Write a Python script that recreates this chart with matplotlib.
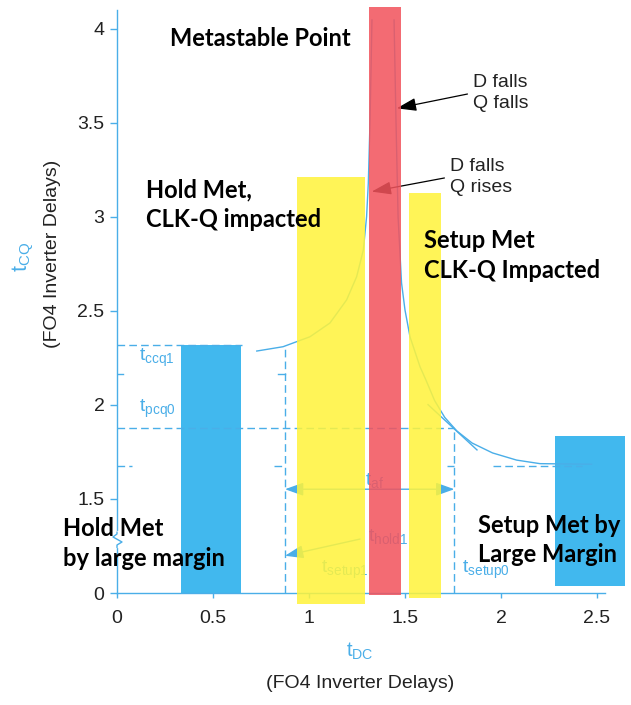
import numpy as np
import matplotlib
matplotlib.use('Agg')
import matplotlib.pyplot as plt

plt.rcParams['font.family'] = ['Liberation Sans', 'DejaVu Sans']
plt.rcParams['font.size'] = 14

BLUE = '#41b8ee'
LINE = '#4aaee8'
YELLOW = '#fff33b'
RED = '#f2535c'
INK = '#222222'

# operating regions: t_DC span and t_CQ span (FO4 delays)
region_x0 = [0.333, 0.936, 1.3125, 1.521, 2.28]
region_x1 = [0.646, 1.292, 1.477, 1.6875, 2.645]
region_y0 = [0.0, -0.18, -0.03, -0.08, 0.11]
region_y1 = [2.32, 3.214, 4.118, 3.129, 1.835]
region_col = [BLUE, YELLOW, RED, YELLOW, BLUE]

# hold side curve (D falls, Q rises)
hold_dc = [0.728, 0.865, 1.005, 1.109, 1.196, 1.248, 1.283, 1.300, 1.309, 1.318, 1.328]
hold_cq = [2.287, 2.310, 2.363, 2.436, 2.559, 2.682, 2.824, 3.002, 3.181, 3.516, 4.048]

# setup side curve (D falls, Q falls)
setup_dc = [1.443, 1.453, 1.464, 1.482, 1.500, 1.526, 1.578, 1.609, 1.654, 1.707,
            1.770, 1.849, 1.956, 2.081, 2.203, 2.472]
setup_cq = [4.048, 3.516, 3.000, 2.649, 2.505, 2.363, 2.204, 2.133, 2.024, 1.934,
            1.862, 1.798, 1.745, 1.707, 1.688, 1.685]

knee_dc = [1.62, 1.875]
knee_cq = [2.002, 1.761]

# reference levels
t_ccq1 = 2.32
t_pcq0 = 1.876
t_floor = 1.676
t_mid = 2.165
t_af_level = 1.552
t_hold_dc = 0.875
t_setup_dc = 1.757
t_hold1_from = (1.266, 0.861)
t_hold1_to = (0.875, 0.594)
floor_spans = [(0.0, 0.08), (0.82, 0.875), (1.72, 1.757), (1.96, 2.42)]
mid_spans = [(0.0, 0.03), (0.84, 0.875)]

xticks = [0, 0.5, 1, 1.5, 2, 2.5]
xtick_labels = ['0', '0.5', '1', '1.5', '2', '2.5']
yticks = [0, 1.5, 2, 2.5, 3, 3.5, 4]
ytick_labels = ['0', '1.5', '2', '2.5', '3', '3.5', '4']

BREAK = 1.5


def fwd(y):
    y = np.asarray(y, float)
    return np.where(y >= BREAK, y, 1.0 + y / 3.0)


def inv(v):
    v = np.asarray(v, float)
    return np.where(v >= BREAK, v, (v - 1.0) * 3.0)


fig = plt.figure(figsize=(6.31, 7.05), dpi=100)
ax = fig.add_axes([117 / 631, 112 / 705, 488 / 631, 583 / 705])
ax.set_yscale('function', functions=(fwd, inv))
ax.set_xlim(0, 2.5417)
ax.set_ylim(0, 4.101)

dash = (0, (5.5, 3))

# curves
ax.plot(hold_dc, hold_cq, color=LINE, lw=1.0, zorder=2, clip_on=False)
ax.plot(setup_dc, setup_cq, color=LINE, lw=1.0, zorder=2, clip_on=False)
ax.plot(knee_dc, knee_cq, color=LINE, lw=1.0, zorder=2)

# dashed guides
ax.plot([0, 0.65], [t_ccq1, t_ccq1], color=LINE, lw=1.0, ls=dash, zorder=2)
ax.plot([0, t_setup_dc], [t_pcq0, t_pcq0], color=LINE, lw=1.0, ls=dash, zorder=2)
ax.plot([t_hold_dc, t_hold_dc], [0, t_ccq1], color=LINE, lw=1.0, ls=dash, zorder=2)
ax.plot([t_setup_dc, t_setup_dc], [0, t_pcq0], color=LINE, lw=1.0, ls=dash, zorder=2)
for a, b in floor_spans:
    ax.plot([a, b], [t_floor, t_floor], color=LINE, lw=1.0, ls=dash, zorder=2)
for a, b in mid_spans:
    ax.plot([a, b], [t_mid, t_mid], color=LINE, lw=1.0, zorder=2)

# t_af and t_hold1 arrows
ax.annotate('', xy=(t_hold_dc, t_af_level), xytext=(t_setup_dc, t_af_level),
            arrowprops=dict(arrowstyle='<|-|>,head_length=0.7,head_width=0.25',
                            color=LINE, lw=1.0, shrinkA=0, shrinkB=0,
                            mutation_scale=16), zorder=2)
ax.annotate('', xy=t_hold1_to, xytext=t_hold1_from,
            arrowprops=dict(arrowstyle='-|>,head_length=0.7,head_width=0.25',
                            color=LINE, lw=1.0, shrinkA=0, shrinkB=0,
                            mutation_scale=16), zorder=2)

# black callouts
callout_arrow = dict(arrowstyle='-|>,head_length=0.6,head_width=0.2',
                     color='black', lw=0.9, shrinkA=2, shrinkB=0,
                     mutation_scale=20, relpos=(0, 0.5))
ax.annotate('D falls\nQ falls', xy=(1.457, 3.578), xytext=(1.854, 3.66),
            ha='left', va='center', fontsize=14, color=INK, linespacing=1.3,
            arrowprops=callout_arrow, zorder=2)
ax.annotate('D falls\nQ rises', xy=(1.3265, 3.135), xytext=(1.734, 3.213),
            ha='left', va='center', fontsize=14, color=INK, linespacing=1.3,
            arrowprops=callout_arrow, zorder=2)

# small labels
lab = dict(fontsize=14, ha='left', va='center', zorder=2)
ax.text(0.115, 2.25, r'$\mathregular{t_{ccq1}}$', color=LINE, **lab)
ax.text(0.115, 1.979, r'$\mathregular{t_{pcq0}}$', color=LINE, **lab)
ax.text(1.292, 1.601, r'$\mathregular{t_{af}}$', color=LINE, **lab)
ax.text(1.309, 0.909, r'$\mathregular{t_{hold1}}$', color=LINE, **lab)
ax.text(1.061, 0.367, r'$\mathregular{t_{setup1}}$', color=LINE, **lab)
ax.text(1.795, 0.375, r'$\mathregular{t_{setup0}}$', color=LINE, **lab)

# region bars
for x0, x1, y0, y1, c in zip(region_x0, region_x1, region_y0, region_y1, region_col):
    alpha = 1.0 if c == BLUE else 0.86
    z = 1 if c == BLUE else 3
    ax.bar(x0, y1 - y0, width=x1 - x0, bottom=y0, align='edge', color=c,
           alpha=alpha, zorder=z, clip_on=False, linewidth=0)

# region captions
cap = dict(fontsize=17, fontweight='bold', family=['Lato', 'DejaVu Sans'],
           color='black', ha='left', va='center', linespacing=1.32, zorder=6)
ax.text(0.276, 3.952, 'Metastable Point', **cap)
ax.text(0.151, 3.064, 'Hold Met,\nCLK-Q impacted', **cap)
ax.text(1.599, 2.795, 'Setup Met\nCLK-Q Impacted', **cap)
ax.text(-0.281, 0.79, 'Hold Met\nby large margin', **cap)
ax.text(1.880, 0.846, 'Setup Met by\nLarge Margin', **cap)

# axes styling
for s in ['top', 'right']:
    ax.spines[s].set_visible(False)
for s in ['left', 'bottom']:
    ax.spines[s].set_color(LINE)
    ax.spines[s].set_linewidth(1.0)
ax.set_xticks(xticks)
ax.set_xticklabels(xtick_labels)
ax.set_yticks(yticks)
ax.set_yticklabels(ytick_labels)
ax.minorticks_off()
ax.tick_params(axis='y', direction='out', length=5, width=1, color=LINE,
               pad=4, labelcolor=INK, labelsize=14)
ax.tick_params(axis='x', direction='out', length=3.5, width=1, color=LINE,
               pad=8.5, labelcolor=INK, labelsize=14)

# axis break marker on the y spine
brk = 0.85
ax.plot([0, 0], [brk - 0.1, brk + 0.1], color='white', lw=3, zorder=4, clip_on=False)
ax.plot([0, 0, 0.026, -0.021, 0, 0],
        [brk - 0.12, brk - 0.084, brk - 0.036, brk + 0.044, brk + 0.092, brk + 0.12],
        color=LINE, lw=1.0, zorder=5, clip_on=False)

# axis titles
fig.text(23 / 631, 1 - 257 / 705, r'$\mathregular{t_{CQ}}$', color=LINE, fontsize=15.5,
         rotation=90, ha='center', va='center')
fig.text(52.5 / 631, 1 - 254 / 705, '(FO4 Inverter Delays)', color=INK, fontsize=14,
         rotation=90, ha='center', va='center')
fig.text(360 / 631, 1 - 651 / 705, r'$\mathregular{t_{DC}}$', color=LINE, fontsize=14.5,
         ha='center', va='center')
fig.text(360 / 631, 1 - 683 / 705, '(FO4 Inverter Delays)', color=INK, fontsize=14,
         ha='center', va='center')

fig.savefig('out.png', dpi=100)
